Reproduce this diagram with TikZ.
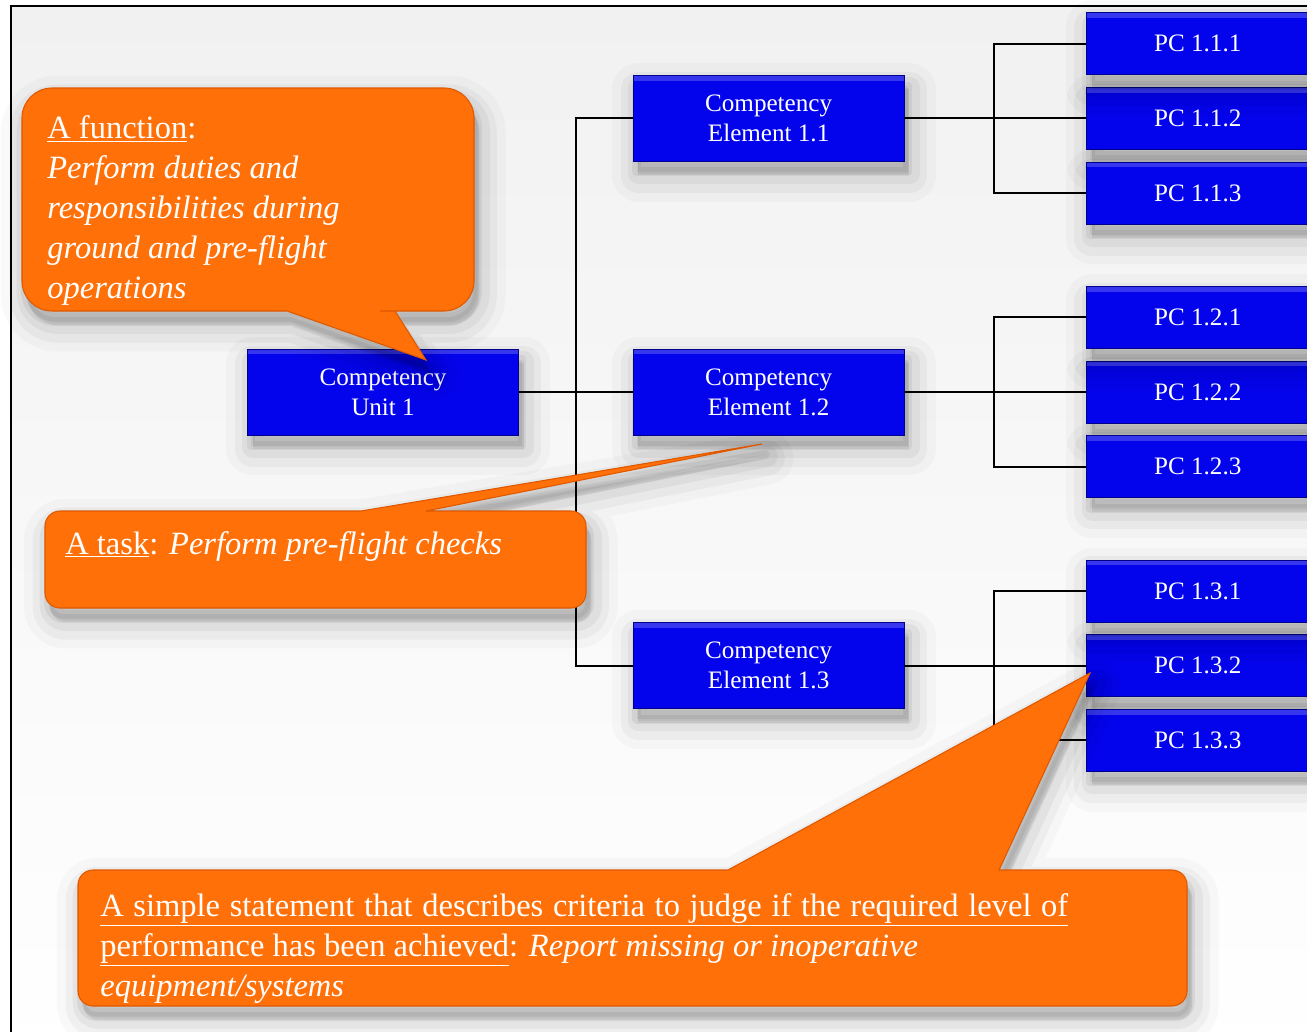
\documentclass[tikz,border=0pt]{standalone}
\usepackage{fontspec}
\setmainfont{Liberation Serif}
\usetikzlibrary{positioning,calc}

\definecolor{unitblue}{RGB}{4,4,236}
\definecolor{unitedge}{RGB}{0,0,140}
\definecolor{tiporange}{RGB}{255,112,8}
\definecolor{tipedge}{RGB}{222,88,0}

\begin{document}
\begin{tikzpicture}[
    x=0.02cm, y=-0.02cm,
    node distance=1cm,
    softshade/.style={
        preaction={draw=black, fill=black, opacity=0.025, line width=30pt, line join=round, transform canvas={shift={(3pt,-8pt)}}},
        preaction={draw=black, fill=black, opacity=0.035, line width=20pt, line join=round, transform canvas={shift={(3pt,-8pt)}}},
        preaction={draw=black, fill=black, opacity=0.045, line width=12pt, line join=round, transform canvas={shift={(3pt,-7pt)}}},
        preaction={draw=black, fill=black, opacity=0.06, line width=5pt, line join=round, transform canvas={shift={(2pt,-6pt)}}}},
    comp/.style={rectangle, draw=unitedge, fill=unitblue, text=white, align=center, inner sep=0pt, minimum width=5.42cm, minimum height=1.72cm, font=\fontsize{14.3}{17}\selectfont, softshade,
        path picture={\fill[white, opacity=0.2] (path picture bounding box.north west) rectangle ([yshift=-3pt]path picture bounding box.north east);}},
    pc/.style={comp, minimum width=4.44cm, minimum height=1.24cm},
    link/.style={draw=black, line width=1.1pt},
    callout/.style={fill=tiporange, draw=tipedge, line width=0.6pt, softshade},
    note/.style={text=white, inner sep=0pt, align=left, font=\fontsize{18.5}{22.76}\selectfont}
]
\useasboundingbox (0,0) rectangle (1307,1031);

% frame
\draw[line width=1.4pt, top color={rgb,255:red,241;green,241;blue,241}, bottom color=white] (11,6) rectangle (1340,1060);

% unit and elements
\node[comp] (unit) at (383,392) {Competency\\Unit 1};
\node[comp, right=2.28cm of unit] (elem12) {Competency\\Element 1.2};
\node[comp, above=3.74cm of elem12] (elem11) {Competency\\Element 1.1};
\node[comp, below=3.74cm of elem12] (elem13) {Competency\\Element 1.3};

% performance criteria
\node[pc, right=3.64cm of elem11] (pc112) {PC 1.1.2};
\node[pc, above=0.24cm of pc112] (pc111) {PC 1.1.1};
\node[pc, below=0.24cm of pc112] (pc113) {PC 1.1.3};

\node[pc, right=3.64cm of elem12] (pc122) {PC 1.2.2};
\node[pc, above=0.24cm of pc122] (pc121) {PC 1.2.1};
\node[pc, below=0.24cm of pc122] (pc123) {PC 1.2.3};

\node[pc, right=3.64cm of elem13] (pc132) {PC 1.3.2};
\node[pc, above=0.24cm of pc132] (pc131) {PC 1.3.1};
\node[pc, below=0.24cm of pc132] (pc133) {PC 1.3.3};

% connectors
\draw[link] (unit.east) -- (elem12.west);
\draw[link] (elem11.west) -- ++(-57,0) |- (elem13.west);

\draw[link] (elem11.east) -- (pc112.west);
\draw[link] (pc111.west) -- ++(-92,0) |- (pc113.west);
\draw[link] (elem12.east) -- (pc122.west);
\draw[link] (pc121.west) -- ++(-92,0) |- (pc123.west);
\draw[link] (elem13.east) -- (pc132.west);
\draw[link] (pc131.west) -- ++(-92,0) |- (pc133.west);

% callouts
\path[callout] [rounded corners=0.6cm] (250,88) -- (474,88) -- (474,311) -- (410,311) [sharp corners] -- (395,311) -- (426,360) -- (287,311) -- (270,311) [rounded corners=0.6cm] -- (22,311) -- (22,88) -- cycle;
\node[note, anchor=north west] (functext) at (47,115) {\underline{A function}:\\\textit{Perform duties and}\\\textit{responsibilities during}\\\textit{ground and pre-flight}\\\textit{operations}};

\path[callout] [rounded corners=0.3cm] (200,511) -- (300,511) [sharp corners] -- (361,511) -- (762,444) -- (426,511) -- (500,511) [rounded corners=0.3cm] -- (586,511) -- (586,608) -- (45,608) -- (45,511) -- cycle;
\node[note, anchor=base west] (tasktext) at (65,554) {\underline{A task}: \textit{Perform pre-flight checks}};

\path[callout] [rounded corners=0.3cm] (400,870) -- (700,870) [sharp corners] -- (728,870) -- (1090,673) -- (999,870) -- (1030,870) [rounded corners=0.3cm] -- (1187,870) -- (1187,1006) -- (78,1006) -- (78,870) -- cycle;
\node[note, anchor=north west] (pctext) at (100,893) {\underline{\makebox[19.36cm][s]{A simple statement that describes criteria to judge if the required level of}}\\\underline{performance has been achieved}: \textit{Report missing or inoperative}\\\textit{equipment/systems}};

\end{tikzpicture}
\end{document}
